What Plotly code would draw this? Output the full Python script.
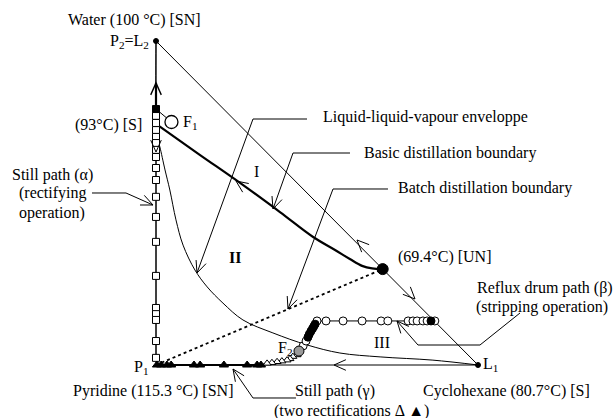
import math
import plotly.graph_objects as go

W, H = 613, 418
# pixel frame of the triangle (x: cyclohexane fraction, y: water fraction)
PX0, PX1 = 156, 478
PY0, PY1 = 365, 41
SX, SY = PX1 - PX0, PY0 - PY1

# ---------------- data ----------------
# Still path (alpha): squares on the pyridine-water edge (water fraction)
alpha_y = [0.790, 0.769, 0.747, 0.725, 0.704, 0.685, 0.664, 0.642, 0.608,
           0.571, 0.519, 0.457, 0.380, 0.275, 0.176, 0.157, 0.139, 0.074, 0.022]
alpha_x = [0.0] * len(alpha_y)

# Reflux drum path (beta): circles
beta_x = [0.444, 0.457, 0.466, 0.500, 0.528, 0.581, 0.640, 0.699, 0.720, 0.783,
          0.798, 0.811, 0.829, 0.842, 0.866]
beta_y = [0.043, 0.059, 0.074, 0.136, 0.136, 0.136, 0.136, 0.136, 0.136, 0.136,
          0.136, 0.136, 0.136, 0.136, 0.136]
beta_fill_x = [0.472, 0.476, 0.481, 0.486, 0.490, 0.494, 0.854]
beta_fill_y = [0.086, 0.095, 0.104, 0.112, 0.119, 0.126, 0.136]

# Still path (gamma): open triangles (first rectification), filled (second)
gam1_x = [0.438, 0.425, 0.416, 0.407, 0.391, 0.376, 0.360, 0.345]
gam1_y = [0.031, 0.026, 0.019, 0.015, 0.012, 0.010, 0.007, 0.005]
gam2_x = [0.326, 0.314, 0.283, 0.211, 0.137, 0.118, 0.047, 0.034, 0.016, 0.003]
gam2_y = [0.0] * len(gam2_x)

# Liquid-liquid-vapour envelope
env_x = [0.0, 0.0, 0.003, 0.006, 0.012, 0.028, 0.043, 0.062, 0.084, 0.121, 0.159,
         0.208, 0.270, 0.363, 0.469, 0.571, 0.696, 0.860, 1.0]
env_y = [1.0, 0.787, 0.725, 0.694, 0.673, 0.602, 0.540, 0.448, 0.370, 0.293, 0.241,
         0.191, 0.139, 0.099, 0.062, 0.037, 0.025, 0.015, 0.0]

# Basic distillation boundary
bdb_x = [0.0, 0.137, 0.261, 0.385, 0.488, 0.556, 0.602, 0.640, 0.671, 0.704]
bdb_y = [0.744, 0.648, 0.562, 0.472, 0.395, 0.355, 0.327, 0.306, 0.298, 0.296]

# singular points
az_ter = (0.704, 0.296)     # 69.4 C ternary azeotrope
az_bin = (0.0, 0.790)       # 93 C binary azeotrope
F1 = (0.048, 0.750)
F2 = (0.444, 0.043)
P2 = (0.0, 1.0)
L1 = (1.0, 0.0)
P1 = (0.0, 0.0)

FONT = "Liberation Serif"

fig = go.Figure()

def line(xs, ys, width=1.0, dash=None, shape="linear", color="black"):
    fig.add_trace(go.Scatter(x=xs, y=ys, mode="lines", hoverinfo="skip",
                             line=dict(color=color, width=width, dash=dash, shape=shape),
                             showlegend=False))

def marks(xs, ys, symbol, size, fill, lw=1.0):
    fig.add_trace(go.Scatter(x=xs, y=ys, mode="markers", hoverinfo="skip", cliponaxis=False,
                             marker=dict(symbol=symbol, size=size, color=fill,
                                         line=dict(color="black", width=lw)),
                             showlegend=False))

# triangle edges
line([P1[0], P2[0]], [P1[1], P2[1]], 1.0)
line([P2[0], L1[0]], [P2[1], L1[1]], 1.0)
line([P1[0], L1[0]], [P1[1], L1[1]], 1.0)
# thicker top of the left edge (towards water)
line([0.0, 0.0], [0.744, 0.87], 2.2)
# envelope
line(env_x, env_y, 1.0, shape="spline")
# basic boundary
line(bdb_x, bdb_y, 2.2, shape="spline")
# batch boundary (dotted)
line([P1[0], az_ter[0]], [P1[1], az_ter[1]], 1.8, dash="dot")
# feed F1 link
line([az_bin[0], F1[0]], [az_bin[1], F1[1]], 1.0)
# paths
line(alpha_x, alpha_y, 1.0)
line(beta_x[:3] + beta_fill_x[:6] + beta_x[3:], beta_y[:3] + beta_fill_y[:6] + beta_y[3:], 1.0)
line(gam1_x + gam2_x, gam1_y + gam2_y, 1.8)

marks(alpha_x[1:], alpha_y[1:], "square", 7, "white")
marks([alpha_x[0]], [alpha_y[0]], "square", 7, "black")
marks(beta_x[1:], beta_y[1:], "circle", 8, "white")
marks(beta_fill_x, beta_fill_y, "circle", 8, "black")
marks(gam1_x, gam1_y, "triangle-up", 7, "white")
marks(gam2_x, gam2_y, "triangle-up", 8, "black")
marks([F1[0]], [F1[1]], "circle", 13, "white", 1.3)
marks([F2[0]], [F2[1]], "circle", 10, "#9a9a9a", 1.0)
marks([az_ter[0]], [az_ter[1]], "circle", 11, "black")
marks([P2[0], L1[0]], [P2[1], L1[1]], "circle", 5, "black")

# ---------------- annotation graphics (pixel based) ----------------
def pp(px, py):
    return px / W, 1 - py / H

shapes = []
def poly(pts, width=1.0):
    path = "M " + " L ".join(f"{pp(x, y)[0]:.5f},{pp(x, y)[1]:.5f}" for x, y in pts)
    shapes.append(dict(type="path", path=path, xref="paper", yref="paper",
                       line=dict(color="black", width=width)))

def head(tip, frm, L=13, ang=24, width=1.0):
    tx, ty = tip
    dx, dy = tx - frm[0], ty - frm[1]
    n = math.hypot(dx, dy)
    dx, dy = dx / n, dy / n
    pts = []
    for s in (1, -1):
        a = math.radians(ang) * s
        # rotate the backwards vector (-dx,-dy) by a
        rx = -dx * math.cos(a) + dy * math.sin(a)
        ry = -dx * math.sin(a) - dy * math.cos(a)
        pts.append((tx + L * rx, ty + L * ry))
    poly([pts[0], tip, pts[1]], width)

# arrows on the edges / boundary
head((156, 83), (156, 120), width=1.4)
head((156, 152), (156, 120))
head((236, 181), (280, 212))
head((357, 240), (400, 283))
head((415, 299), (380, 264))
head((334, 365), (400, 365))

# leader lines
leaders = [
    [(307, 119), (253, 119), (197, 273)],
    [(350, 153), (293, 153), (273, 209)],
    [(388, 189), (333, 189), (288, 309)],
    [(92, 193), (126, 193), (153, 205)],
    [(520, 313), (480, 345), (418, 345), (397, 321)],
    [(296, 398), (253, 398), (233, 369)],
]
for ld in leaders:
    poly(ld)
    head(ld[-1], ld[-2])

# ---------------- texts ----------------
ann = []
def txt(s, px, py, anchor="center", size=16, bold=False):
    x, y = pp(px, py)
    if bold:
        s = f"<b>{s}</b>"
    ann.append(dict(text=s, x=x, y=y, xref="paper", yref="paper", xanchor=anchor,
                    yanchor="middle", showarrow=False,
                    font=dict(family=FONT, size=size, color="black")))

txt("Water (100 °C) [SN]", 134, 20)
txt("P<sub>2</sub>=L<sub>2</sub>", 151, 41, "right")
txt("(93°C) [S]", 108, 125)
txt("F<sub>1</sub>", 181, 123, "left")
txt("Still path (α)", 52, 175)
txt("(rectifying", 53, 193)
txt("operation)", 52, 213)
txt("I", 256, 172)
txt("II", 235, 257, bold=True)
txt("III", 382, 342)
txt("(69.4°C) [UN]", 396, 257, "left")
txt("Liquid-liquid-vapour enveloppe", 321, 117, "left")
txt("Basic distillation boundary", 362, 153, "left")
txt("Batch distillation boundary", 396, 188, "left")
txt("Reflux drum path (β)", 475, 288, "left")
txt("(stripping operation)", 474, 307, "left")
txt("P<sub>1</sub>", 151, 367, "right")
txt("F<sub>2</sub>", 285, 348)
txt("L<sub>1</sub>", 481, 364, "left")
txt("Pyridine (115.3 °C) [SN]", 153, 391)
txt("Still path (γ)", 335, 391)
txt("(two rectifications Δ ▲)", 352, 411)
txt("Cyclohexane (80.7°C) [S]", 507, 391)

fig.update_layout(
    width=W, height=H, margin=dict(l=0, r=0, t=0, b=0),
    paper_bgcolor="white", plot_bgcolor="white",
    xaxis=dict(range=[(0 - PX0) / SX, (W - PX0) / SX], visible=False, fixedrange=True),
    yaxis=dict(range=[(PY0 - H) / SY, PY0 / SY], visible=False, fixedrange=True),
    shapes=shapes, annotations=ann, showlegend=False,
)
fig.write_html("out.html", config={"displayModeBar": False},
               post_script="document.body.style.margin='0';document.body.style.overflow='hidden';")
